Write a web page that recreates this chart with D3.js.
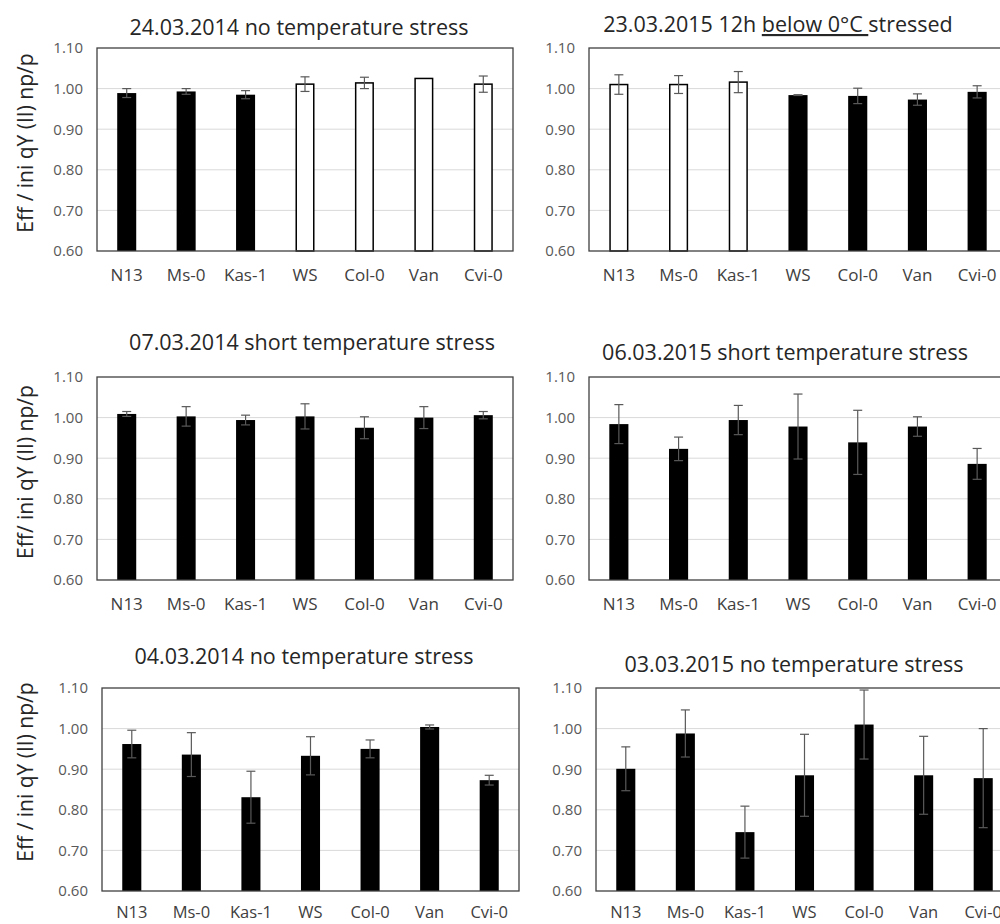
<!DOCTYPE html>
<html>
<head>
<meta charset="utf-8">
<script src="https://cdn.jsdelivr.net/npm/d3@7/dist/d3.min.js"></script>
<style>
  html, body { margin: 0; padding: 0; background: #fff; }
  svg { display: block; font-family: "Open Sans", "Noto Sans", sans-serif; }
</style>
</head>
<body>
<svg id="chart" width="1000" height="924"></svg>
<script>
// Accessions on the x axis (same order in every panel)
const accessions = ["N13", "Ms-0", "Kas-1", "WS", "Col-0", "Van", "Cvi-0"];
const yTicks = [0.6, 0.7, 0.8, 0.9, 1.0, 1.1];

// Panel titles
const titles = [
  "24.03.2014 no temperature stress",
  "23.03.2015 12h below 0°C stressed",
  "07.03.2014 short temperature stress",
  "06.03.2015 short temperature stress",
  "04.03.2014 no temperature stress",
  "03.03.2015 no temperature stress"
];

// Means (Eff / ini qY (II) np/p) per panel
const mean2014_03_24 = [0.989, 0.993, 0.985, 1.011, 1.014, 1.025, 1.011];
const mean2015_03_23 = [1.010, 1.010, 1.016, 0.984, 0.982, 0.973, 0.992];
const mean2014_03_07 = [1.009, 1.003, 0.994, 1.003, 0.975, 1.000, 1.006];
const mean2015_03_06 = [0.984, 0.923, 0.994, 0.978, 0.939, 0.978, 0.886];
const mean2014_03_04 = [0.962, 0.936, 0.831, 0.933, 0.950, 1.004, 0.873];
const mean2015_03_03 = [0.901, 0.988, 0.745, 0.885, 1.010, 0.885, 0.878];

// Error bar half-widths
const err2014_03_24 = [0.011, 0.007, 0.010, 0.018, 0.014, 0.000, 0.020];
const err2015_03_23 = [0.024, 0.022, 0.026, 0.001, 0.019, 0.014, 0.015];
const err2014_03_07 = [0.006, 0.024, 0.012, 0.031, 0.027, 0.027, 0.009];
const err2015_03_06 = [0.048, 0.029, 0.036, 0.080, 0.079, 0.024, 0.038];
const err2014_03_04 = [0.034, 0.054, 0.064, 0.047, 0.022, 0.005, 0.012];
const err2015_03_03 = [0.054, 0.058, 0.064, 0.101, 0.085, 0.096, 0.122];

// Which bars are drawn hollow (true) or solid (false)
const hollow2014_03_24 = [false, false, false, true, true, true, true];
const hollow2015_03_23 = [true, true, true, false, false, false, false];
const hollowNone = [false, false, false, false, false, false, false];

const yLabelTexts = ["Eff / ini qY (II) np/p", "Eff/ ini qY (II) np/p", "Eff / ini qY (II) np/p"];

const series = [
  { mean: mean2014_03_24, err: err2014_03_24, hollow: hollow2014_03_24 },
  { mean: mean2015_03_23, err: err2015_03_23, hollow: hollow2015_03_23 },
  { mean: mean2014_03_07, err: err2014_03_07, hollow: hollowNone },
  { mean: mean2015_03_06, err: err2015_03_06, hollow: hollowNone },
  { mean: mean2014_03_04, err: err2014_03_04, hollow: hollowNone },
  { mean: mean2015_03_03, err: err2015_03_03, hollow: hollowNone }
];

// Layout of each panel: plot box, title placement, y-axis label, category label offset/size
const layout = [
  { x: 97,  y: 48,  w: 416, h: 203, tx: 299, ty: 35,  yl: 0, ylx: 25, yly: 143, cy: 30, cs: 17 },
  { x: 589, y: 48,  w: 418, h: 203, tx: 778, ty: 32,  cy: 30, cs: 17 },
  { x: 97,  y: 377, w: 416, h: 203, tx: 312, ty: 350, yl: 1, ylx: 25, yly: 472, cy: 30, cs: 17 },
  { x: 589, y: 377, w: 418, h: 203, tx: 785, ty: 360, cy: 30, cs: 17 },
  { x: 102, y: 688, w: 417, h: 203, tx: 304, ty: 664, yl: 2, ylx: 25, yly: 772, cy: 27, cs: 16.5 },
  { x: 596, y: 688, w: 417, h: 203, tx: 794, ty: 672, cy: 27, cs: 16.5 }
];

const svg = d3.select("#chart");

series.forEach((s, i) => {
  const L = layout[i];
  const g = svg.append("g").attr("transform", `translate(${L.x},${L.y})`);

  const x = d3.scaleBand().domain(accessions).range([0, L.w])
    .paddingInner(0.68).paddingOuter(0.34);
  const y = d3.scaleLinear().domain([0.6, 1.1]).range([L.h, 0]);

  // horizontal gridlines
  g.append("g").selectAll("line")
    .data(yTicks.filter(t => t > 0.6 && t < 1.1))
    .join("line")
    .attr("x1", 0).attr("x2", L.w)
    .attr("y1", d => y(d)).attr("y2", d => y(d))
    .attr("stroke", "#d9d9d9").attr("stroke-width", 1);

  // y axis tick labels
  const yAxis = d3.axisLeft(y).tickValues(yTicks).tickFormat(d3.format(".2f"))
    .tickSize(0).tickPadding(14);
  const ya = g.append("g").call(yAxis);
  ya.select(".domain").remove();
  ya.selectAll("text").attr("fill", "#595959").attr("font-size", 15)
    .attr("font-family", "'Open Sans', sans-serif");

  // x axis category labels
  const xAxis = d3.axisBottom(x).tickSize(0).tickPadding(0);
  const xa = g.append("g").attr("transform", `translate(0,${L.h})`).call(xAxis);
  xa.select(".domain").remove();
  xa.selectAll("text").attr("y", L.cy).attr("dy", null)
    .attr("fill", "#404040").attr("font-size", L.cs)
    .attr("font-family", "'Open Sans', sans-serif");

  const rows = accessions.map((a, k) => ({ a, m: s.mean[k], e: s.err[k], h: s.hollow[k] }));

  // bars
  g.append("g").selectAll("rect")
    .data(rows)
    .join("rect")
    .attr("x", d => x(d.a) + (d.h ? 0.75 : 0))
    .attr("width", d => x.bandwidth() - (d.h ? 1.5 : 0))
    .attr("y", d => y(d.m))
    .attr("height", d => y(0.6) - y(d.m))
    .attr("fill", d => d.h ? "#fff" : "#000")
    .attr("stroke", d => d.h ? "#000" : "none")
    .attr("stroke-width", 1.5);

  // error bars
  const eb = g.append("g").attr("stroke", "#595959").attr("stroke-width", 1.2)
    .selectAll("g").data(rows.filter(d => d.e > 0)).join("g")
    .attr("transform", d => `translate(${x(d.a) + x.bandwidth() / 2},0)`);
  eb.append("line").attr("y1", d => y(d.m + d.e)).attr("y2", d => y(d.m - d.e));
  eb.append("line").attr("x1", -4.5).attr("x2", 4.5)
    .attr("y1", d => y(d.m + d.e)).attr("y2", d => y(d.m + d.e));
  eb.append("line").attr("x1", -4.5).attr("x2", 4.5)
    .attr("y1", d => y(d.m - d.e)).attr("y2", d => y(d.m - d.e));

  // plot frame
  g.append("rect").attr("x", 0).attr("y", 0).attr("width", L.w).attr("height", L.h)
    .attr("fill", "none").attr("stroke", "#404040").attr("stroke-width", 1.3);

  // title
  const t = svg.append("text").attr("x", L.tx).attr("y", L.ty)
    .attr("text-anchor", "middle").attr("font-size", 21.5).attr("fill", "#262626");
  if (titles[i].includes("below 0°C")) {
    const parts = titles[i].split("below 0°C ");
    t.append("tspan").text(parts[0]);
    t.append("tspan").text("below 0°C ").style("text-decoration", "underline");
    t.append("tspan").text(parts[1]);
  } else {
    t.text(titles[i]);
  }

  // y-axis label
  if (L.yl !== undefined) {
    svg.append("text")
      .attr("transform", `translate(${L.ylx},${L.yly}) rotate(-90)`)
      .attr("text-anchor", "middle").attr("dominant-baseline", "central")
      .attr("font-size", 21).attr("fill", "#262626")
      .text(yLabelTexts[L.yl]);
  }
});
</script>
</body>
</html>
